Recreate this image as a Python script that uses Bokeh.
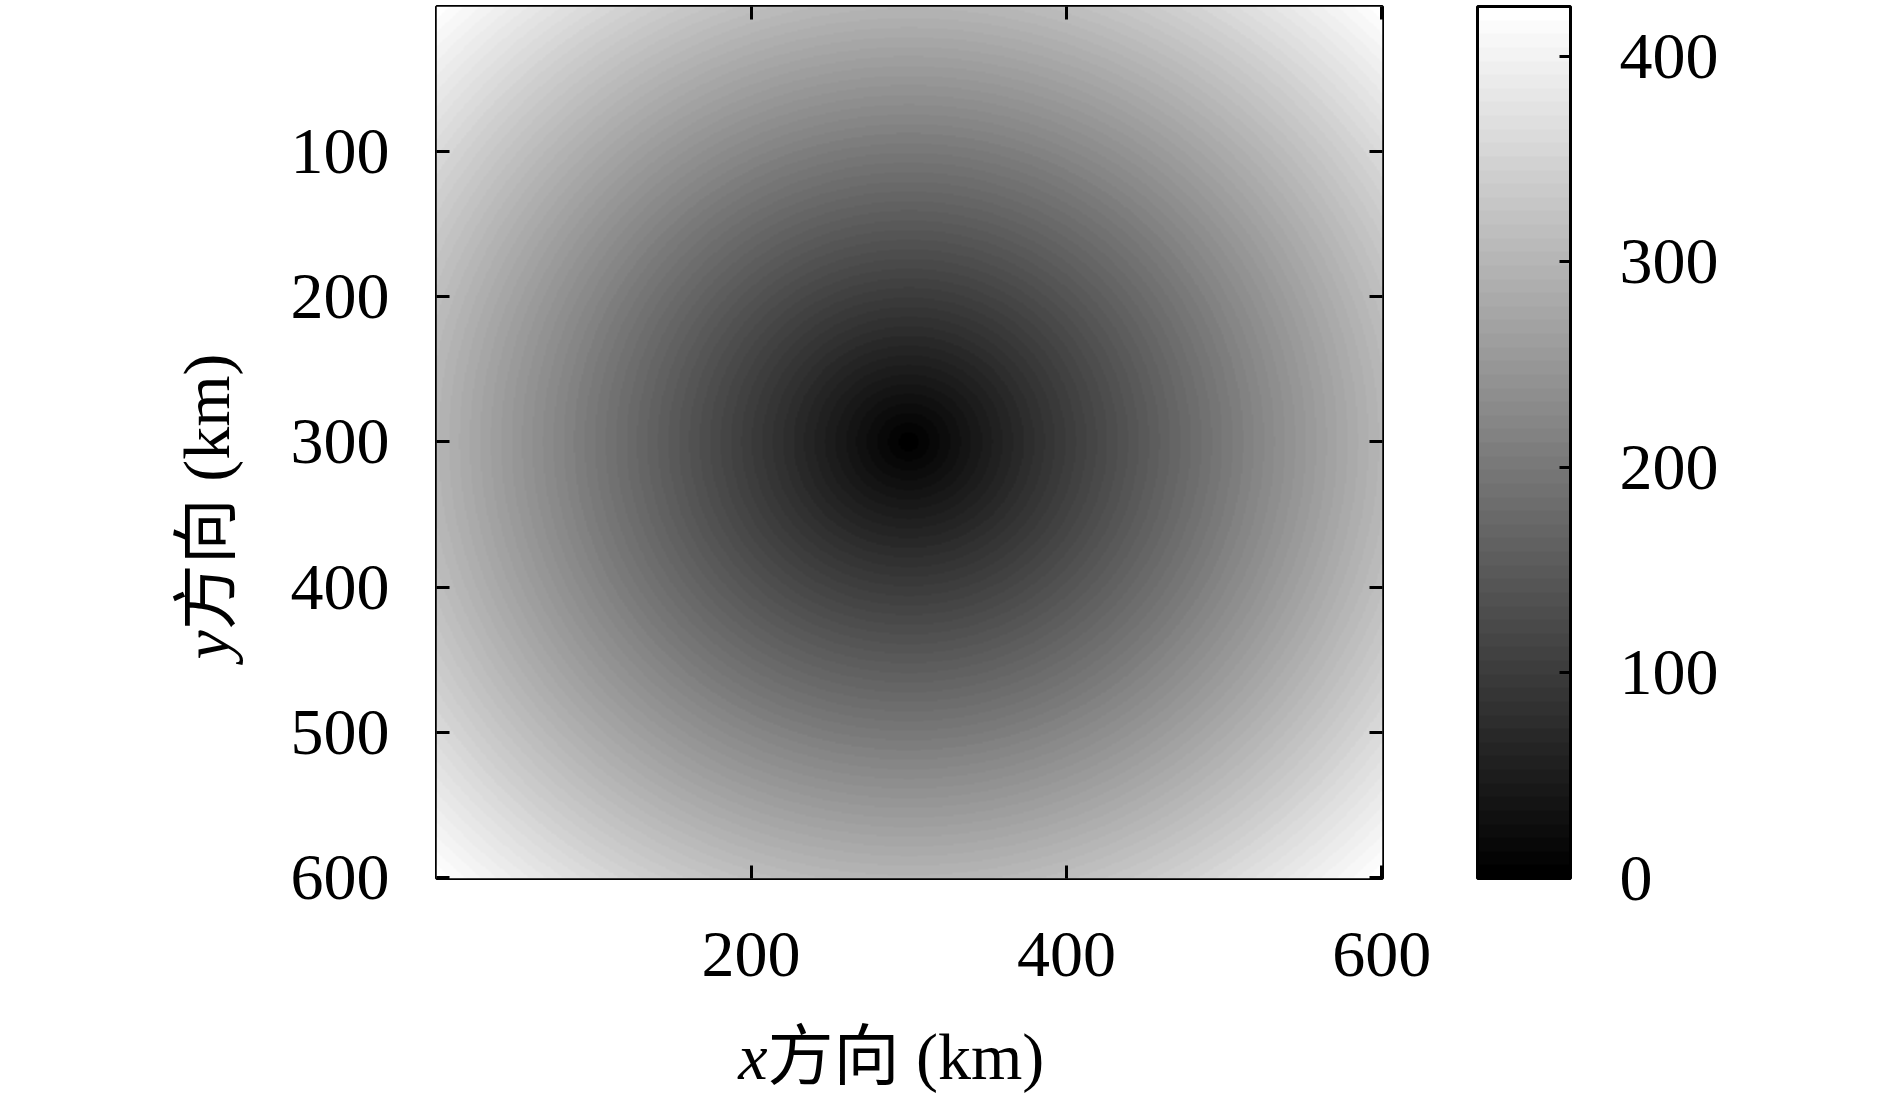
import numpy as np
from bokeh.plotting import figure
from bokeh.layouts import row, column
from bokeh.models import (LinearColorMapper, ColorBar, FixedTicker, LinearAxis,
                          Range1d, Label)
from bokeh.embed import file_html
from bokeh.resources import INLINE

# ---------------- data ----------------
x_km = np.arange(1, 601)          # grid columns (km)
y_km = np.arange(1, 601)          # grid rows (km)
center_x = 300
center_y = 300
XX, YY = np.meshgrid(x_km, y_km)
dist = np.sqrt((XX - center_x) ** 2 + (YY - center_y) ** 2)
dist_max = float(dist.max())

x_ticks = [200, 400, 600]
y_ticks = [100, 200, 300, 400, 500, 600]
cb_ticks = [0, 100, 200, 300, 400]
x_label_var, x_label_rest = "x", "方向 (km)"
y_label_var, y_label_rest = "y", "方向 (km)"

# ---------------- style ----------------
TICKFONT = "Liberation Serif"
SERIF = "Liberation Serif, Noto Sans CJK SC"
FS = "66px"
n_levels = 64
grays = ["#%02x%02x%02x" % ((round(255 * i / (n_levels - 1)),) * 3) for i in range(n_levels)]

LEFT_W = 250          # width of the y-title strip
TOP_H = 1008          # height of the main figure
BOT_H = 88            # height of the x-title strip

mapper = LinearColorMapper(palette=grays, low=0, high=dist_max)

p = figure(frame_width=946, frame_height=872, output_backend="svg", toolbar_location=None,
           x_range=Range1d(0.5, 600.5), y_range=Range1d(600.5, 0.5),
           min_border_left=186, min_border_right=508, min_border_top=6,
           min_border_bottom=TOP_H - 6 - 872)
p.image(image=[dist], x=0.5, y=0.5, dw=600, dh=600, color_mapper=mapper)

p.xgrid.visible = False
p.ygrid.visible = False
p.outline_line_color = "black"
p.outline_line_width = 3
p.background_fill_color = "white"
p.border_fill_color = "white"


def style_axis(ax, ticks, show_labels, standoff):
    ax.ticker = FixedTicker(ticks=ticks)
    ax.axis_line_color = None
    ax.major_tick_in = 13
    ax.major_tick_out = 0
    ax.major_tick_line_width = 3
    ax.major_tick_line_color = "black"
    ax.minor_tick_line_color = None
    ax.major_label_standoff = standoff
    ax.major_label_text_font = TICKFONT
    ax.major_label_text_color = "black"
    if show_labels:
        ax.major_label_text_font_size = FS
    else:
        ax.major_label_text_font_size = "0px"
        ax.major_label_overrides = {t: "" for t in ticks}


style_axis(p.xaxis[0], x_ticks, True, 54)
style_axis(p.yaxis[0], y_ticks, True, 47)

top_ax = LinearAxis()
style_axis(top_ax, x_ticks, False, 0)
p.add_layout(top_ax, "above")
right_ax = LinearAxis()
style_axis(right_ax, y_ticks, False, 0)
p.add_layout(right_ax, "right")

cb = ColorBar(color_mapper=mapper, ticker=FixedTicker(ticks=cb_ticks),
              width=93, height=872, location=(95, 0),
              major_tick_in=11, major_tick_out=0, major_tick_line_color="black",
              major_tick_line_width=3, minor_tick_line_color=None,
              bar_line_color="black", bar_line_width=3, label_standoff=49,
              major_label_text_font=TICKFONT, major_label_text_font_size=FS,
              major_label_text_color="black", padding=0, margin=0,
              border_line_color=None, background_fill_color=None)
p.add_layout(cb, "right")


# ---------------- title strips ----------------
def strip(w, h):
    f = figure(width=w, height=h, output_backend="svg", toolbar_location=None,
               x_range=Range1d(0, w), y_range=Range1d(h, 0),
               x_axis_type=None, y_axis_type=None, min_border=0)
    f.xgrid.visible = False
    f.ygrid.visible = False
    f.outline_line_color = None
    f.background_fill_color = "white"
    f.border_fill_color = "white"
    return f


def lab(f, **kw):
    base = dict(text_font=SERIF, text_font_size=FS, text_baseline="alphabetic",
                text_color="black")
    base.update(kw)
    f.add_layout(Label(**base))


ylab = strip(LEFT_W, TOP_H)
lab(ylab, x=206, y=721, angle=np.pi / 2, text=y_label_var,
    text_font_style="italic", text_align="right")
lab(ylab, x=206, y=721, angle=np.pi / 2, text=y_label_rest, text_align="left")

xlab = strip(LEFT_W + 1640, BOT_H)
lab(xlab, x=767, y=48, text=x_label_var, text_font_style="italic",
    text_align="right")
lab(xlab, x=767, y=48, text=x_label_rest, text_align="left")

layout = column(row(ylab, p, spacing=0), xlab, spacing=0)

open("out.html", "w").write(file_html(layout, INLINE))
